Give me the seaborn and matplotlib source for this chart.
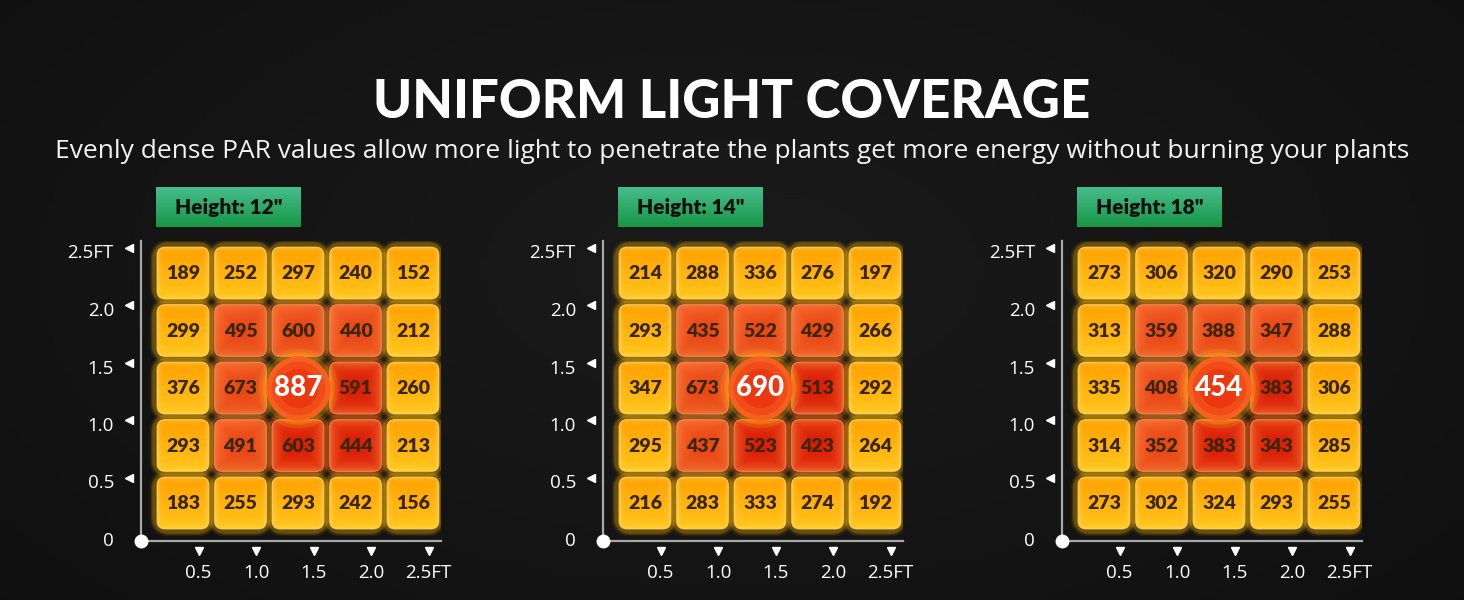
import numpy as np
import pandas as pd
import matplotlib
matplotlib.use("Agg")
import matplotlib.pyplot as plt
import seaborn as sns
from matplotlib.patches import FancyBboxPatch
from matplotlib.path import Path

# ---------------- data ----------------
title = "UNIFORM LIGHT COVERAGE"
subtitle = ("Evenly dense PAR values allow more light to penetrate the plants "
            "get more energy without burning your plants")
heights = ['Height: 12"', 'Height: 14"', 'Height: 18"']

# PAR values, rows listed top (2.5 ft) to bottom (0 ft), columns left to right
par_12 = [[189, 252, 297, 240, 152],
          [299, 495, 600, 440, 212],
          [376, 673, 887, 591, 260],
          [293, 491, 603, 444, 213],
          [183, 255, 293, 242, 156]]
par_14 = [[214, 288, 336, 276, 197],
          [293, 435, 522, 429, 266],
          [347, 673, 690, 513, 292],
          [295, 437, 523, 423, 264],
          [216, 283, 333, 274, 192]]
par_18 = [[273, 306, 320, 290, 253],
          [313, 359, 388, 347, 288],
          [335, 408, 454, 383, 306],
          [314, 352, 383, 343, 285],
          [273, 302, 324, 293, 255]]
panels = [par_12, par_14, par_18]

# zone of each cell (o = outer ring, i = inner ring, d = deep-red inner, c = centre)
zones = [list("ooooo"),
         list("oiiio"),
         list("oicdo"),
         list("oiddo"),
         list("ooooo")]

x_ticks = [0.5, 1.0, 1.5, 2.0, 2.5]
x_tick_labels = ["0.5", "1.0", "1.5", "2.0", "2.5FT"]
y_ticks = [0.5, 1.0, 1.5, 2.0, 2.5]
y_tick_labels = ["0.5", "1.0", "1.5", "2.0", "2.5FT"]

# ---------------- style ----------------
sns.set_theme(style="dark")
plt.rcParams["font.family"] = ["Lato", "DejaVu Sans"]

W, H = 1464, 600
fig = plt.figure(figsize=(W / 100, H / 100), dpi=100)
fig.patch.set_facecolor("#121212")

# background radial gradient
bg = fig.add_axes([0, 0, 1, 1], zorder=-10)
yy, xx = np.mgrid[0:1:120j, 0:1:300j]
rad = np.sqrt(((xx - 0.5) / 0.7) ** 2 + ((yy - 0.45) / 0.9) ** 2)
shade = np.clip(0.105 - 0.045 * rad, 0.055, 0.11)
bg.imshow(np.dstack([shade, shade, shade]), extent=(0, 1, 0, 1), aspect="auto")
bg.axis("off")

fig.text(0.5, 1 - 103 / H, title, ha="center", va="center", color="white",
         fontsize=38, fontweight="black")
fig.text(0.5, 1 - 151 / H, subtitle, ha="center", va="center", color="#f2f2f2",
         fontsize=19, family=["Open Sans", "DejaVu Sans"])

PX = 115.0            # pixels per foot
SPAN = 300 / PX       # axis length in feet
origins = [141, 603, 1062]
HALF = 0.225          # half cell size (ft)


def cell_rgb(zone, n=40):
    v, u = np.mgrid[0:1:n * 1j, 0:1:n * 1j]   # v: 0 top -> 1 bottom
    uu, vv = u - 0.5, v - 0.5
    edge = 0.5 - np.maximum(np.abs(uu), np.abs(vv))   # distance to edge
    rim = np.exp(-edge / 0.045)
    if zone == "o":
        top = np.array([255, 160, 0]) / 255
        bot = np.array([255, 198, 28]) / 255
        base = top[None, None, :] * (1 - v[..., None]) + bot[None, None, :] * v[..., None]
        rimc = np.array([255, 222, 110]) / 255
        a = 0.45 * rim[..., None]
    elif zone == "i":
        cen = np.array([232, 70, 20]) / 255
        edg = np.array([240, 100, 40]) / 255
        r = (np.maximum(np.abs(uu), np.abs(vv)) / 0.5) ** 2
        base = cen * (1 - r[..., None]) + edg * r[..., None]
        base = base + (0.04 * (1 - v) * (1 - u))[..., None]
        rimc = np.array([248, 135, 70]) / 255
        a = 0.3 * rim[..., None]
    else:
        cen = np.array([218, 30, 6]) / 255
        edg = np.array([236, 80, 30]) / 255
        r = (np.maximum(np.abs(uu), np.abs(vv)) / 0.5) ** 2.2
        base = cen * (1 - r[..., None]) + edg * r[..., None]
        rimc = np.array([244, 130, 70]) / 255
        a = 0.3 * rim[..., None]
    img = base * (1 - a) + rimc * a
    return np.clip(img, 0, 1)


# rounded-square marker for the glow layer
def rounded_square(rr=0.25, n=8):
    verts = []
    for cx, cy, a0 in [(0.5 - rr, 0.5 - rr, 0), (-0.5 + rr, 0.5 - rr, 90),
                       (-0.5 + rr, -0.5 + rr, 180), (0.5 - rr, -0.5 + rr, 270)]:
        for t in np.linspace(a0, a0 + 90, n):
            verts.append((cx + rr * np.cos(np.radians(t)), cy + rr * np.sin(np.radians(t))))
    verts.append(verts[0])
    return Path(verts, closed=True)


rmark = rounded_square()
glow_palette = {"o": "#ffb800", "i": "#ff8a20", "d": "#ff6a10", "c": "#ffd000"}

for k, (vals, label) in enumerate(zip(panels, heights)):
    ox = origins[k]
    ax = fig.add_axes([ox / W, (H - 541) / H, 300 / W, 300 / H])
    ax.set_facecolor((0, 0, 0, 0))
    ax.patch.set_alpha(0)

    rows = []
    for r in range(5):
        for c in range(5):
            rows.append(dict(x=0.365 + 0.5 * c, y=0.33 + 0.5 * (4 - r),
                             value=vals[r][c], zone=zones[r][c]))
    df = pd.DataFrame(rows)
    sq = df[df.zone != "c"]
    ctr = df[df.zone == "c"]

    # glow layers
    for s, al in [(2300, 0.08), (2100, 0.14), (1950, 0.2)]:
        sns.scatterplot(data=sq, x="x", y="y", hue="zone", palette=glow_palette,
                        marker=rmark, s=s, alpha=al, linewidth=0, legend=False,
                        ax=ax, zorder=1)

    # cells with gradients
    for _, row in sq.iterrows():
        cx, cy = row.x, row.y
        patch = FancyBboxPatch((cx - HALF, cy - HALF), 2 * HALF, 2 * HALF,
                               boxstyle="round,pad=0,rounding_size=0.07",
                               facecolor="none", edgecolor="#ffd86a" if row.zone == "o" else "#f59060",
                               linewidth=0.8, alpha=0.8, zorder=3)
        ax.add_patch(patch)
        im = ax.imshow(cell_rgb(row.zone), extent=(cx - HALF, cx + HALF, cy - HALF, cy + HALF),
                       origin="upper", interpolation="bilinear", zorder=2)
        im.set_clip_path(patch)
        ax.text(cx, cy - 0.005, f"{row.value}", ha="center", va="center",
                fontsize=14, fontweight="heavy", color="#3b2608", zorder=4)

    # centre circle
    for s, al, col in [(3300, 0.12, "#ffd000"), (2700, 0.25, "#ffb000")]:
        sns.scatterplot(data=ctr, x="x", y="y", marker="o", s=s, color=col,
                        alpha=al, linewidth=0, legend=False, ax=ax, zorder=5)
    sns.scatterplot(data=ctr, x="x", y="y", marker="o", s=2150, color="#f56020",
                    linewidth=0, legend=False, ax=ax, zorder=6)
    sns.scatterplot(data=ctr, x="x", y="y", marker="o", s=1500, color="#ee3a12",
                    alpha=0.55, linewidth=0, legend=False, ax=ax, zorder=6)
    sns.scatterplot(data=ctr, x="x", y="y", marker="o", s=800, color="#e82a0c",
                    alpha=0.55, linewidth=0, legend=False, ax=ax, zorder=6)
    for _, row in ctr.iterrows():
        ax.text(row.x, row.y, f"{row.value}", ha="center", va="center",
                fontsize=20, fontweight="black", color="white", zorder=7)

    # axes
    ax.set_xlim(0, SPAN)
    ax.set_ylim(0, SPAN)
    ax.set_aspect("auto")
    ax.set_xticks([])
    ax.set_yticks([])
    ax.set_xlabel("")
    ax.set_ylabel("")
    for side in ["top", "right"]:
        ax.spines[side].set_visible(False)
    for side in ["left", "bottom"]:
        ax.spines[side].set_visible(True)
        ax.spines[side].set_color("#a8a8a8")
        ax.spines[side].set_linewidth(1.6)
    ax.plot([0], [0], marker="o", markersize=9, color="white", clip_on=False, zorder=10)

    tick_font = dict(fontsize=13.5, color="white", family=["Open Sans", "DejaVu Sans"])
    for t, lab in zip(x_ticks, x_tick_labels):
        ax.plot([t], [-10 / PX], marker="v", markersize=5.5, color="white",
                clip_on=False, zorder=10)
        ax.text(t, -32 / PX, lab, ha="center", va="center", **tick_font)
    for t, lab in zip(y_ticks, y_tick_labels):
        ax.plot([-12 / PX], [t + 0.05], marker="<", markersize=5.5, color="white",
                clip_on=False, zorder=10)
        ax.text(-27 / PX, t, lab, ha="right", va="center", **tick_font)
    ax.text(-27 / PX, 0, "0", ha="right", va="center", **tick_font)

    # badge
    bx0, bx1 = 15 / PX, 160 / PX
    by0, by1 = (541 - 227) / PX, (541 - 188) / PX
    badge = FancyBboxPatch((bx0, by0), bx1 - bx0, by1 - by0,
                           boxstyle="round,pad=0,rounding_size=0.03",
                           facecolor="none", edgecolor="none", clip_on=False)
    ax.add_patch(badge)
    g = np.linspace(0, 1, 40)[:, None, None]
    gtop = np.array([70, 190, 140]) / 255
    gbot = np.array([24, 150, 70]) / 255
    gimg = np.repeat(gtop * (1 - g) + gbot * g, 2, axis=1)
    bim = ax.imshow(gimg, extent=(bx0, bx1, by0, by1), origin="upper",
                    interpolation="bilinear", zorder=3, clip_on=False)
    bim.set_clip_path(badge)
    ax.text((bx0 + bx1) / 2, (by0 + by1) / 2, label, ha="center", va="center",
            fontsize=15, fontweight="heavy", color="#101010", zorder=4)
    ax.set_xlim(0, SPAN)
    ax.set_ylim(0, SPAN)
    ax.set_aspect("auto")

fig.savefig("out.png", dpi=100, facecolor=fig.get_facecolor())
